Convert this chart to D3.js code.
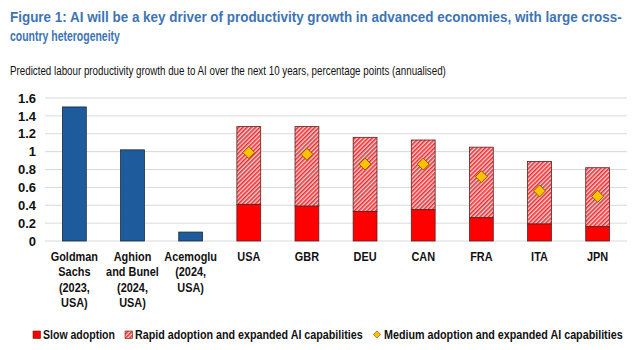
<!DOCTYPE html>
<html>
<head>
<meta charset="utf-8">
<script src="https://d3js.org/d3.v7.min.js"></script>
<style>
  body { margin: 0; background: #fff; }
  svg { font-family: "Liberation Sans", Arial, sans-serif; }
</style>
</head>
<body>
<svg id="chart" width="638" height="350"></svg>
<script>
// data
var studies = ["Goldman Sachs (2023, USA)", "Aghion and Bunel (2024, USA)", "Acemoglu (2024, USA)"];
var studyValues = [1.5, 1.02, 0.1];
var countries = ["USA", "GBR", "DEU", "CAN", "FRA", "ITA", "JPN"];
var slowValues = [0.41, 0.39, 0.33, 0.35, 0.26, 0.19, 0.16];
var rapidValues = [1.28, 1.28, 1.16, 1.13, 1.05, 0.89, 0.82];
var mediumValues = [0.99, 0.97, 0.86, 0.86, 0.72, 0.56, 0.50];
var xLabels = [
  ["Goldman", "Sachs", "(2023,", "USA)"],
  ["Aghion", "and Bunel", "(2024,", "USA)"],
  ["Acemoglu", "(2024,", "USA)"],
  ["USA"], ["GBR"], ["DEU"], ["CAN"], ["FRA"], ["ITA"], ["JPN"]
];
var yTicks = [0, 0.2, 0.4, 0.6, 0.8, 1, 1.2, 1.4, 1.6];

var svg = d3.select("#chart");

// squeeze a text horizontally to a given width (the original uses a narrow font)
function narrowText(parent, x, y, w, str) {
  var g = parent.append("g");
  var t = g.append("text").text(str);
  var natural = t.node().getComputedTextLength();
  g.attr("transform", "translate(" + x + "," + y + ") scale(" + (w / natural) + ",1)");
  return t;
}

// hatch pattern
var defs = svg.append("defs");
var pat = defs.append("pattern")
  .attr("id", "hatch")
  .attr("patternUnits", "userSpaceOnUse")
  .attr("width", 3).attr("height", 3)
  .attr("patternTransform", "rotate(45)");
pat.append("rect").attr("width", 3).attr("height", 3).attr("fill", "#fcd4d4");
pat.append("rect").attr("width", 1.6).attr("height", 3).attr("fill", "#ea2f33");

// titles
var titles = svg.append("g").attr("fill", "#3d74b6").attr("font-weight", "bold").attr("font-size", 15);
narrowText(titles, 10, 22, 612, "Figure 1: AI will be a key driver of productivity growth in advanced economies, with large cross-");
narrowText(titles, 10, 41, 110, "country heterogeneity");
var sub = svg.append("g").attr("fill", "#111").attr("font-size", 13);
narrowText(sub, 10, 75, 436, "Predicted labour productivity growth due to AI over the next 10 years, percentage points (annualised)");

var cats = studies.concat(countries);
var x = d3.scaleBand().domain(cats).range([45, 627]).paddingInner(0.59).paddingOuter(0.3);
var y = d3.scaleLinear().domain([0, 1.6]).range([241, 98]);

// gridlines
svg.append("g").selectAll("line").data(yTicks).enter().append("line")
  .attr("x1", 45).attr("x2", 627)
  .attr("y1", function (d) { return y(d); }).attr("y2", function (d) { return y(d); })
  .attr("stroke", "#d9d9d9").attr("stroke-width", 1);

// y axis labels
var yAxis = svg.append("g").attr("transform", "translate(36,0)")
  .call(d3.axisLeft(y).tickValues(yTicks).tickSize(0).tickPadding(0)
    .tickFormat(function (d) { return d3.format("")(d); }));
yAxis.select(".domain").remove();
yAxis.selectAll("text").attr("font-size", 13).attr("font-weight", "bold")
  .attr("fill", "#111").attr("font-family", "inherit");

// study bars
svg.append("g").selectAll("rect").data(studyValues).enter().append("rect")
  .attr("x", function (d, i) { return x(studies[i]); })
  .attr("width", x.bandwidth())
  .attr("y", function (d) { return y(d); })
  .attr("height", function (d) { return y(0) - y(d); })
  .attr("fill", "#1e5b9c").attr("stroke", "#1a2a3a").attr("stroke-width", 0.8);

// rapid (hatched) segment
svg.append("g").selectAll("rect").data(rapidValues).enter().append("rect")
  .attr("x", function (d, i) { return x(countries[i]); })
  .attr("width", x.bandwidth())
  .attr("y", function (d) { return y(d); })
  .attr("height", function (d, i) { return y(slowValues[i]) - y(d); })
  .attr("fill", "url(#hatch)").attr("stroke", "#5a2020").attr("stroke-width", 0.8);

// slow segment
svg.append("g").selectAll("rect").data(slowValues).enter().append("rect")
  .attr("x", function (d, i) { return x(countries[i]); })
  .attr("width", x.bandwidth())
  .attr("y", function (d) { return y(d); })
  .attr("height", function (d) { return y(0) - y(d); })
  .attr("fill", "#ff0000").attr("stroke", "#5a2020").attr("stroke-width", 0.8);

// diamonds
var diamond = d3.symbol().type(d3.symbolSquare).size(72);
svg.append("g").selectAll("path").data(mediumValues).enter().append("path")
  .attr("d", diamond)
  .attr("transform", function (d, i) {
    return "translate(" + (x(countries[i]) + x.bandwidth() / 2) + "," + y(d) + ") rotate(45)";
  })
  .attr("fill", "#ffc000").attr("stroke", "#6b5000").attr("stroke-width", 0.8);

// x labels (condensed look)
var xl = svg.append("g").selectAll("g").data(xLabels).enter().append("g")
  .attr("transform", function (d, i) {
    return "translate(" + (x(cats[i]) + x.bandwidth() / 2) + ",261) scale(0.84,1)";
  })
  .append("text")
  .attr("text-anchor", "middle")
  .attr("font-size", 13).attr("font-weight", "bold").attr("fill", "#111");
xl.selectAll("tspan").data(function (d) { return d; }).enter().append("tspan")
  .attr("x", 0)
  .attr("dy", function (d, i) { return i === 0 ? 0 : 15.5; })
  .text(function (d) { return d; });

// legend
var lg = svg.append("g").attr("font-size", 13).attr("font-weight", "bold").attr("fill", "#111");
lg.append("rect").attr("x", 33).attr("y", 331).attr("width", 7.5).attr("height", 7.5)
  .attr("fill", "#ff0000").attr("stroke", "#5a2020").attr("stroke-width", 0.6);
narrowText(lg, 43, 339, 72, "Slow adoption");
lg.append("rect").attr("x", 125).attr("y", 331).attr("width", 7.5).attr("height", 7.5)
  .attr("fill", "url(#hatch)").attr("stroke", "#5a2020").attr("stroke-width", 0.6);
narrowText(lg, 135, 339, 228, "Rapid adoption and expanded AI capabilities");
lg.append("path").attr("d", d3.symbol().type(d3.symbolSquare).size(26))
  .attr("transform", "translate(377,334.5) rotate(45)")
  .attr("fill", "#ffc000").attr("stroke", "#6b5000").attr("stroke-width", 0.6);
narrowText(lg, 384, 339, 239, "Medium adoption and expanded AI capabilities");
</script>
</body>
</html>
